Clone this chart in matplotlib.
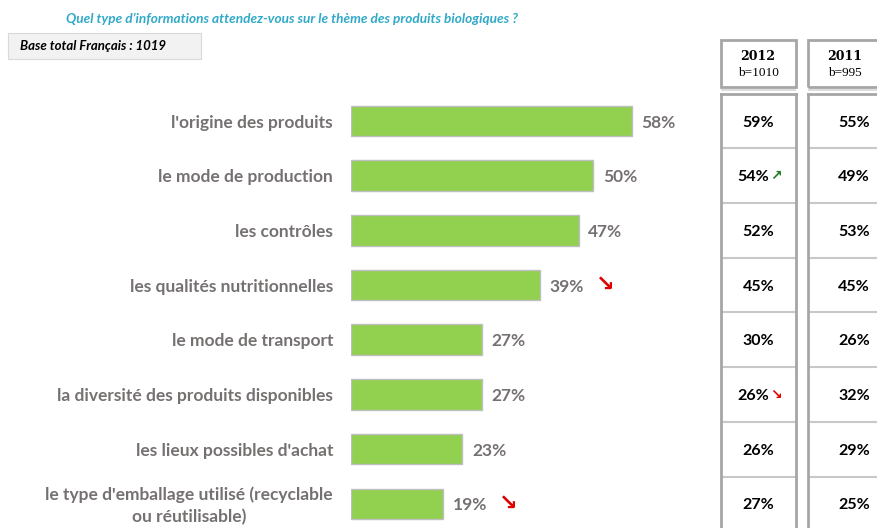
import matplotlib.pyplot as plt
from matplotlib.patches import Rectangle

W, H = 878, 528

labels = ["l'origine des produits", "le mode de production", "les contrôles",
          "les qualités nutritionnelles", "le mode de transport",
          "la diversité des produits disponibles", "les lieux possibles d'achat",
          "le type d'emballage utilisé (recyclable\nou réutilisable)"]
valeurs = [58, 50, 47, 39, 27, 27, 23, 19]
fleches = ["", "", "", "down", "", "", "", "down"]
col_2012 = [59, 54, 52, 45, 30, 26, 26, 27]
fleches_2012 = ["", "up", "", "", "", "down", "", ""]
col_2011 = [55, 49, 53, 45, 26, 32, 29, 25]
entetes = [("2012", "b=1010"), ("2011", "b=995")]

gris = "#767171"
vert = "#92D050"
bord = "#A6A6A6"
police = "Lato"


def fx(x):
    return x / W


def fy(y):
    return 1 - y / H


fig = plt.figure(figsize=(W / 100, H / 100), dpi=100)

# zone des barres (pixels)
ax_top, ax_bot = 93.6, 528
pas = 54.7
ylim_bas = -0.5 + (ax_bot - ax_top) / pas


def make_ax(x0, x1):
    return fig.add_axes([fx(x0), fy(ax_bot), fx(x1 - x0), (ax_bot - ax_top) / H])


ax = make_ax(351, 700)
y = list(range(len(labels)))
ax.barh(y, valeurs, height=0.56, color=vert, edgecolor="#BFBFBF", linewidth=1)
ax.set_xlim(0, (700 - 351) / 4.845)
ax.set_ylim(ylim_bas, -0.5)
ax.axis("off")
for i, v in enumerate(valeurs):
    ax.text(v + 2, i + 0.03, f"{v}%", va="center", ha="left", color=gris,
            fontsize=12.5, fontweight="bold", family=police)
    if fleches[i] == "down":
        ax.text(v + 11.5, i, "↘", va="center", ha="left", color="#E00000",
                fontsize=16, fontweight="bold", family="DejaVu Sans")
    ax.text(-3.7, i + 0.03, labels[i], va="center", ha="right", color=gris,
            fontsize=12.5, fontweight="bold", family=police, multialignment="center",
            linespacing=1.45)

# tableau des vagues précédentes
for k, (x0, x1, vals, fl) in enumerate([(721, 796, col_2012, fleches_2012),
                                       (808, 900, col_2011, [""] * 8)]):
    t = make_ax(x0, x1)
    t.set_xlim(0, 1)
    t.set_ylim(ylim_bas, -0.5)
    t.set_xticks([])
    t.set_yticks([])
    for s in ["left", "right"]:
        t.spines[s].set_color(bord)
        t.spines[s].set_linewidth(2)
    t.spines["bottom"].set_visible(False)
    t.spines["top"].set_color(bord)
    t.spines["top"].set_linewidth(2)
    for i in range(len(vals)):
        t.axhline(i + 0.5, color="#C8C8C8", lw=1.5)
        if fl[i]:
            t.text(0.43, i + 0.03, f"{vals[i]}%", va="center", ha="center",
                   fontsize=11.5, fontweight="bold", family=police, color="black")
            fc = "#1E7B1E" if fl[i] == "up" else "#E00000"
            t.text(0.66, i, "↗" if fl[i] == "up" else "↘", va="center", ha="left",
                   fontsize=10, fontweight="bold", family="DejaVu Sans", color=fc)
        else:
            t.text(0.5, i + 0.03, f"{vals[i]}%", va="center", ha="center",
                   fontsize=11.5, fontweight="bold", family=police, color="black")
    # en-tête
    fig.patches.append(Rectangle((fx(x0), fy(87)), fx(x1 - x0), (87 - 40) / H,
                                 transform=fig.transFigure, fill=False,
                                 edgecolor=bord, lw=2))
    fig.patches.append(Rectangle((fx(x0), fy(91)), fx(x1 - x0), 2 / H,
                                 transform=fig.transFigure, facecolor="#DDDDDD",
                                 edgecolor="none"))
    cx = (x0 + 758 - 721) if k == 0 else 845
    fig.text(fx(cx), fy(56), entetes[k][0], ha="center", va="center",
             fontsize=9, fontweight="bold", family="DejaVu Serif")
    fig.text(fx(cx), fy(73), entetes[k][1], ha="center", va="center",
             fontsize=9.5, family="Liberation Serif")

# titre et base
fig.text(fx(66), fy(19), "Quel type d\u2019informations attendez-vous sur le thème des produits biologiques ?",
         ha="left", va="center", color="#31A9C8", fontsize=9.8, fontweight="bold",
         style="italic", family=police)
fig.patches.append(Rectangle((fx(8), fy(59)), fx(193), 26 / H,
                             transform=fig.transFigure, facecolor="#F2F2F2",
                             edgecolor="#D9D9D9", lw=0.8))
fig.text(fx(20), fy(46), "Base total Français : 1019", ha="left", va="center",
         fontsize=9.5, fontweight="bold", style="italic", family=police)

fig.savefig("out.png", dpi=100)
